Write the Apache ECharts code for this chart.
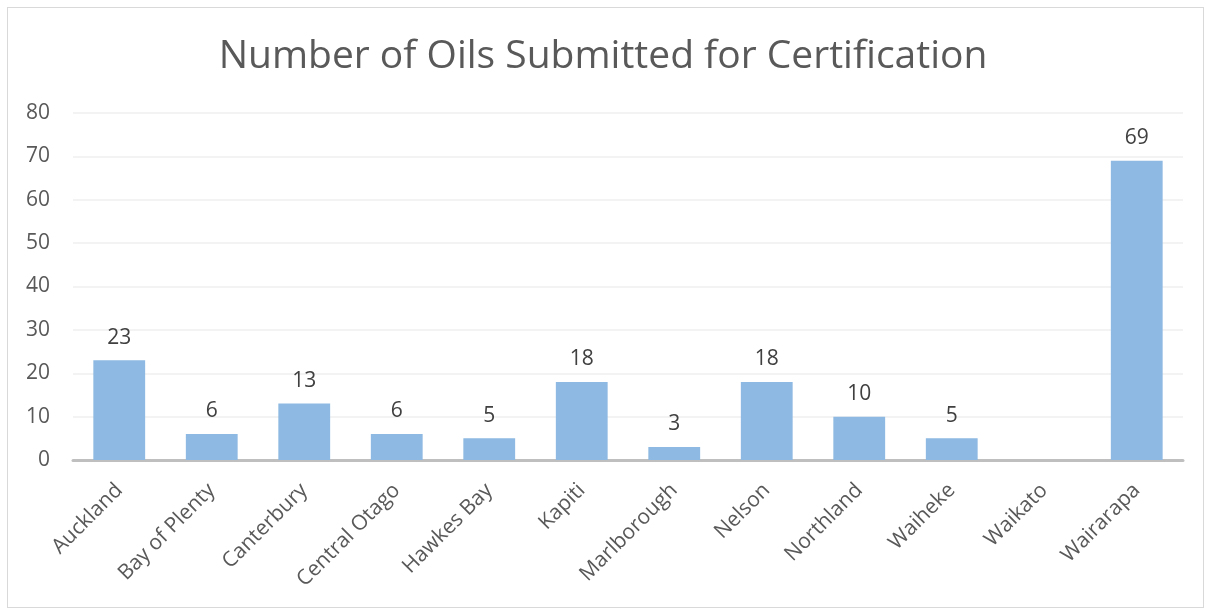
<!DOCTYPE html>
<html>
<head>
<meta charset="utf-8">
<script src="https://cdn.jsdelivr.net/npm/echarts@6/dist/echarts.min.js"></script>
<style>
  html, body { margin: 0; padding: 0; background: #fff; }
  #frame { position: absolute; left: 7px; top: 7px; width: 1197px; height: 601px; border: 1px solid #d9d9d9; box-sizing: border-box; }
  #chart { width: 1206px; height: 610px; }
</style>
</head>
<body>
<div id="frame"></div>
<div id="chart"></div>
<script>
// regions and counts
var regions = ['Auckland', 'Bay of Plenty', 'Canterbury', 'Central Otago', 'Hawkes Bay', 'Kapiti',
    'Marlborough', 'Nelson', 'Northland', 'Waiheke', 'Waikato', 'Wairarapa'];
var oilCounts = [23, 6, 13, 6, 5, 18, 3, 18, 10, 5, null, 69];
var yMin = 0, yMax = 80, yStep = 10;

var chart = echarts.init(document.getElementById('chart'));
var option = {
    animation: false,
    title: {
        text: 'Number of Oils Submitted for Certification',
        left: 'center',
        top: 32,
        textStyle: { fontFamily: 'Open Sans', fontWeight: 'normal', fontSize: 39, color: '#595959' }
    },
    grid: { left: 73, right: 23, top: 113, bottom: 150 },
    xAxis: {
        type: 'category',
        data: regions,
        axisTick: { show: false },
        axisLine: { lineStyle: { color: '#bfbfbf', width: 3 } },
        axisLabel: {
            interval: 0,
            rotate: 45,
            margin: 27,
            fontFamily: 'Open Sans',
            fontSize: 21,
            color: '#595959'
        }
    },
    yAxis: {
        type: 'value',
        min: yMin, max: yMax, interval: yStep,
        axisLine: { show: false },
        axisTick: { show: false },
        splitLine: { lineStyle: { color: '#efefef', width: 1.5 } },
        axisLabel: { margin: 23, fontFamily: 'Open Sans', fontSize: 21, color: '#595959' }
    },
    series: [{
        type: 'bar',
        data: oilCounts,
        barWidth: '56%',
        itemStyle: { color: '#8db9e2' },
        label: {
            show: true,
            position: 'top',
            distance: 12,
            fontFamily: 'Open Sans',
            fontSize: 21,
            color: '#404040'
        }
    }]
};
chart.setOption(option);
</script>
</body>
</html>
